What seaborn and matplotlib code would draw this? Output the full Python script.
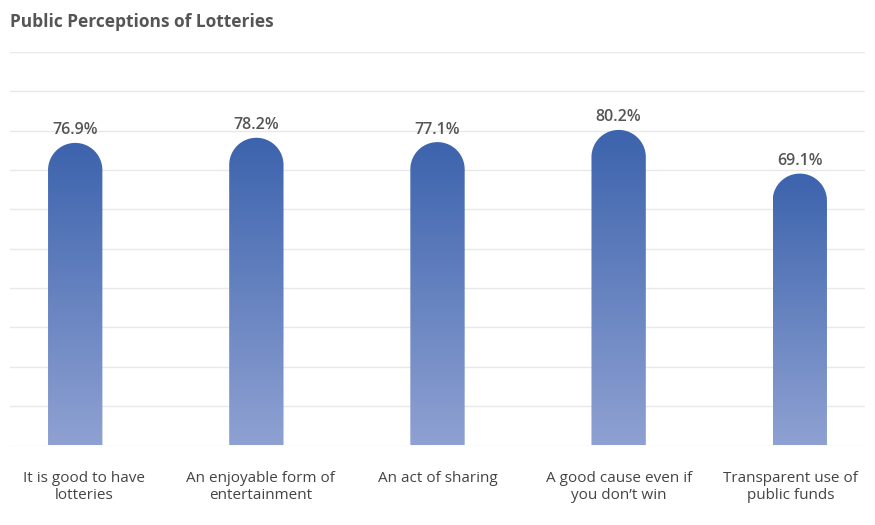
import numpy as np
import pandas as pd
import matplotlib
matplotlib.use('Agg')
import matplotlib.pyplot as plt
import matplotlib.transforms as mtransforms
import seaborn as sns
from matplotlib.path import Path
from matplotlib.patches import PathPatch
from matplotlib.colors import LinearSegmentedColormap

categories = ['It is good to have\nlotteries', 'An enjoyable form of\nentertainment', 'An act of sharing',
              'A good cause even if\nyou don\u2019t win', 'Transparent use of\npublic funds']
values = [76.9, 78.2, 77.1, 80.2, 69.1]

df = pd.DataFrame({'category': categories, 'value': values})

sns.set_style('white')
plt.rcParams['font.family'] = ['Open Sans', 'DejaVu Sans']

fig = plt.figure(figsize=(8.75, 5.25), dpi=100)
ax = fig.add_axes([10 / 875, (525 - 445.5) / 525, 855 / 875, (445.5 - 52) / 525])

sns.barplot(data=df, x='category', y='value', ax=ax, width=0.3, color='#3c63ad')
ax.set_ylim(0, 100)
ax.set_xlim(-0.36, 4.36)
ax.set_yticks(np.arange(0, 101, 10))
ax.set_yticklabels([])
ax.tick_params(axis='y', length=0)
ax.tick_params(axis='x', length=0, pad=18, labelsize=11, labelcolor='#444444')
# edge labels are pulled inward a little, like in the original
shifts = [9, 4, 0, 0, -9]
for lbl, dx in zip(ax.get_xticklabels(), shifts):
    lbl.set_multialignment('center')
    lbl.set_linespacing(1.25)
    lbl.set_transform(lbl.get_transform() + mtransforms.ScaledTranslation(dx / 100, 0, fig.dpi_scale_trans))
ax.grid(True, axis='y', color='#e8e8e8', linewidth=1)
ax.set_axisbelow(True)
for s in ax.spines.values():
    s.set_visible(False)
ax.set_xlabel('')
ax.set_ylabel('')

cmap = LinearSegmentedColormap.from_list('grad', ['#8fa1d2', '#3c63ad'])
grad = np.linspace(0, 1, 256).reshape(-1, 1)

# radius of the rounded cap in data units so it looks round on screen
ax_h_px = (445.5 - 52)
bar_w_units = 0.3
bar_w_px = bar_w_units / 4.72 * 855
ry = (bar_w_px / 2) / ax_h_px * 100

for patch, v in zip(ax.patches, values):
    x0 = patch.get_x()
    w = patch.get_width()
    h = patch.get_height()
    patch.set_visible(False)
    rx = w / 2
    cx = x0 + rx
    t = np.linspace(np.pi, 0, 60)
    arc = np.column_stack([cx + rx * np.cos(t), (h - ry) + ry * np.sin(t)])
    verts = np.vstack([[x0, 0], arc, [x0 + w, 0], [x0, 0]])
    codes = [Path.MOVETO] + [Path.LINETO] * (len(verts) - 2) + [Path.CLOSEPOLY]
    pp = PathPatch(Path(verts, codes), facecolor='none', edgecolor='none', transform=ax.transData)
    ax.add_patch(pp)
    im = ax.imshow(grad, extent=[x0, x0 + w, 0, h], origin='lower', cmap=cmap,
                   aspect='auto', zorder=2)
    im.set_clip_path(pp)
    ax.annotate(f'{v}%', (cx, h), xytext=(0, 9), textcoords='offset points',
                ha='center', va='center', fontsize=11.5, fontweight='semibold', color='#555555')

ax.set_xlim(-0.36, 4.36)
ax.set_ylim(0, 100)

fig.text(10 / 875, 1 - 22 / 525, 'Public Perceptions of Lotteries', fontsize=12.5,
         fontweight='bold', color='#555555', ha='left', va='center')

plt.savefig('out.png', dpi=100)
